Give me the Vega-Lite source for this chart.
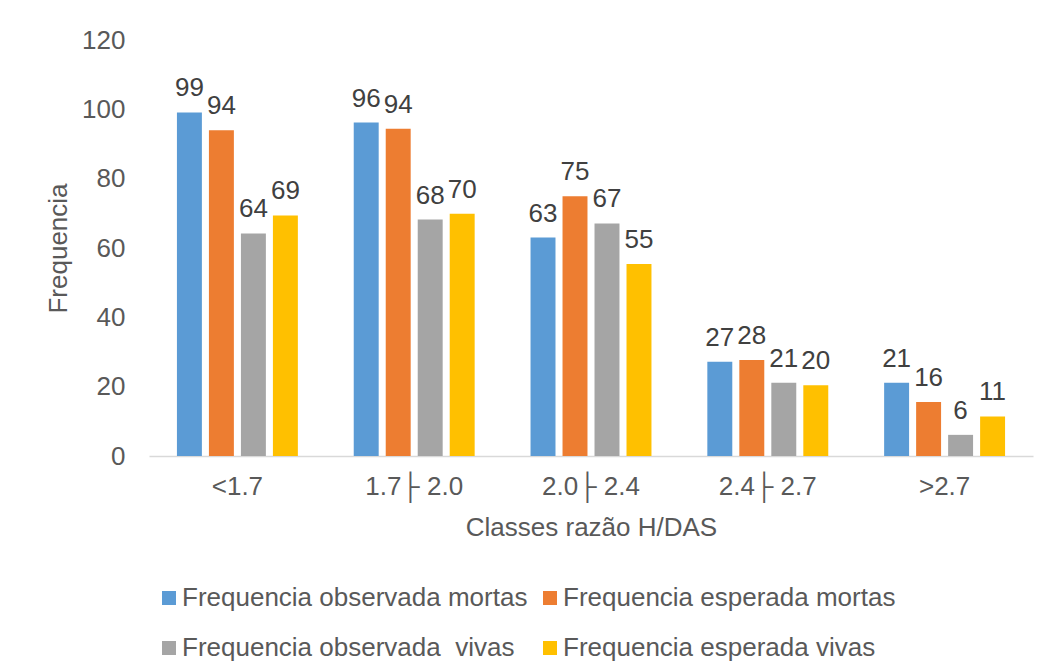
{
  "$schema": "https://vega.github.io/schema/vega-lite/v6.json",
  "autosize": {"type": "none"},
  "padding": {"left": 149, "top": 40, "right": 15, "bottom": 214},
  "width": 884,
  "height": 416,
  "background": "white",
  "config": {"view": {"stroke": null}, "font": "Liberation Sans"},
  "data": {
    "values": [
      {"classe": "<1.7", "serie": "Frequencia observada mortas", "valor": 99.1},
      {"classe": "<1.7", "serie": "Frequencia esperada mortas", "valor": 94.0},
      {"classe": "<1.7", "serie": "Frequencia observada  vivas", "valor": 64.2},
      {"classe": "<1.7", "serie": "Frequencia esperada vivas", "valor": 69.4},
      {"classe": "1.7├ 2.0", "serie": "Frequencia observada mortas", "valor": 96.2},
      {"classe": "1.7├ 2.0", "serie": "Frequencia esperada mortas", "valor": 94.4},
      {"classe": "1.7├ 2.0", "serie": "Frequencia observada  vivas", "valor": 68.2},
      {"classe": "1.7├ 2.0", "serie": "Frequencia esperada vivas", "valor": 69.9},
      {"classe": "2.0├ 2.4", "serie": "Frequencia observada mortas", "valor": 63.0},
      {"classe": "2.0├ 2.4", "serie": "Frequencia esperada mortas", "valor": 74.9},
      {"classe": "2.0├ 2.4", "serie": "Frequencia observada  vivas", "valor": 67.1},
      {"classe": "2.0├ 2.4", "serie": "Frequencia esperada vivas", "valor": 55.4},
      {"classe": "2.4├ 2.7", "serie": "Frequencia observada mortas", "valor": 27.2},
      {"classe": "2.4├ 2.7", "serie": "Frequencia esperada mortas", "valor": 27.7},
      {"classe": "2.4├ 2.7", "serie": "Frequencia observada  vivas", "valor": 21.1},
      {"classe": "2.4├ 2.7", "serie": "Frequencia esperada vivas", "valor": 20.4},
      {"classe": ">2.7", "serie": "Frequencia observada mortas", "valor": 21.1},
      {"classe": ">2.7", "serie": "Frequencia esperada mortas", "valor": 15.6},
      {"classe": ">2.7", "serie": "Frequencia observada  vivas", "valor": 6.1},
      {"classe": ">2.7", "serie": "Frequencia esperada vivas", "valor": 11.4}
    ]
  },
  "encoding": {
    "x": {
      "field": "classe",
      "type": "nominal",
      "sort": ["<1.7", "1.7├ 2.0", "2.0├ 2.4", "2.4├ 2.7", ">2.7"],
      "scale": {"paddingInner": 0.316, "paddingOuter": 0.158},
      "axis": {
        "title": "Classes razão H/DAS",
        "labelAngle": 0,
        "ticks": false,
        "domainColor": "#D9D9D9",
        "domainWidth": 1.5,
        "labelFontSize": 26,
        "labelColor": "#595959",
        "labelPadding": 17,
        "titleFontSize": 26,
        "titleColor": "#595959",
        "titleFontWeight": "normal",
        "titlePadding": 15
      }
    },
    "xOffset": {
      "field": "serie",
      "type": "nominal",
      "sort": ["Frequencia observada mortas", "Frequencia esperada mortas", "Frequencia observada  vivas", "Frequencia esperada vivas"],
      "scale": {"paddingInner": 0.22, "paddingOuter": 0}
    },
    "y": {
      "field": "valor",
      "type": "quantitative",
      "scale": {"domain": [0, 120], "nice": false},
      "axis": {
        "title": "Frequencia",
        "values": [0, 20, 40, 60, 80, 100, 120],
        "domain": false,
        "ticks": false,
        "grid": false,
        "labelFontSize": 26,
        "labelColor": "#595959",
        "labelPadding": 24,
        "titleFontSize": 26,
        "titleColor": "#595959",
        "titleFontWeight": "normal",
        "titlePadding": 10
      }
    }
  },
  "layer": [
    {
      "mark": {"type": "bar"},
      "encoding": {
        "color": {
          "field": "serie",
          "type": "nominal",
          "scale": {
            "domain": ["Frequencia observada mortas", "Frequencia esperada mortas", "Frequencia observada  vivas", "Frequencia esperada vivas"],
            "range": ["#5B9BD5", "#ED7D31", "#A5A5A5", "#FFC000"]
          },
          "legend": {
            "orient": "none",
            "legendX": 7,
            "legendY": 545,
            "columns": 2,
            "direction": "horizontal",
            "title": null,
            "padding": 0,
            "symbolType": "square",
            "symbolSize": 196,
            "symbolStrokeWidth": 0,
            "symbolOpacity": 1,
            "labelFontSize": 26,
            "labelColor": "#595959",
            "labelOffset": 0,
            "labelLimit": 600,
            "labelExpr": "replace(datum.label, '  ', '\u00a0 ')",
            "rowPadding": 24,
            "columnPadding": 9
          }
        }
      }
    },
    {
      "mark": {"type": "text", "baseline": "alphabetic", "dy": -16, "fontSize": 26, "color": "#404040"},
      "encoding": {"text": {"field": "valor", "type": "quantitative", "format": ".0f"}}
    }
  ]
}
